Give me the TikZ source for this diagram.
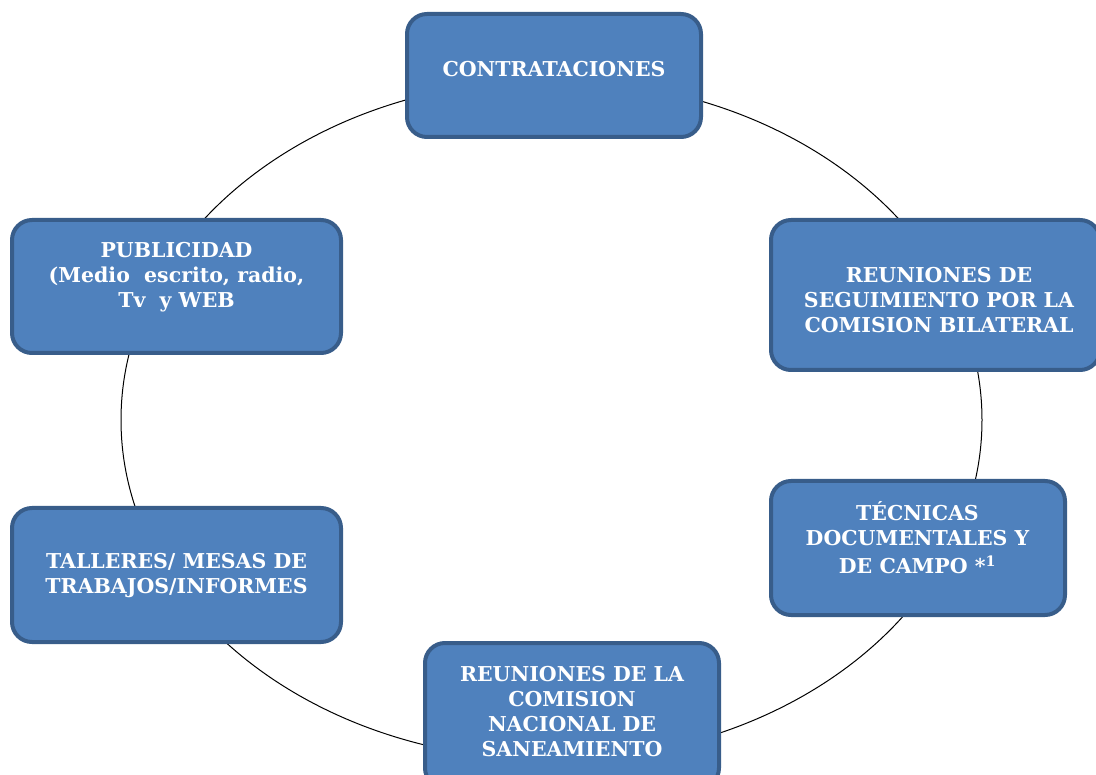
\documentclass[tikz,border=0pt]{standalone}
\usepackage{fontspec}
\setmainfont{DejaVu Serif}
\definecolor{boxfill}{HTML}{4F81BD}
\definecolor{boxborder}{HTML}{385D8A}
\tikzset{
  box/.style={draw=boxborder, line width=4pt, fill=boxfill, rounded corners=20pt, inner sep=0pt},
  lbl/.style={text=white, font=\bfseries\fontsize{20.5}{25}\selectfont, align=center, inner sep=0pt},
  ring/.style={draw=black, line width=1pt}
}
\begin{document}
\begin{tikzpicture}[x=1pt,y=-1pt]
\useasboundingbox (0,0) rectangle (1096,775);
\draw[ring] (551.5,420) ellipse [x radius=430.5pt, y radius=340pt];
\node[box, minimum width=294pt, minimum height=123pt] (top) at (554,75.5) {};
\node[lbl] (topt) at (554,69) {CONTRATACIONES};
\node[box, minimum width=329pt, minimum height=133pt] (pub) at (176.5,286.5) {};
\node[lbl] (pubt) at (176.5,277) {PUBLICIDAD\\(Medio\ \ escrito, radio,\\Tv\ \ y WEB};
\node[box, minimum width=329pt, minimum height=150pt] (seg) at (935.5,295) {};
\node[lbl] (segt) at (939,300) {REUNIONES DE\\SEGUIMIENTO POR LA\\COMISION BILATERAL};
\node[box, minimum width=294pt, minimum height=134pt] (tec) at (918,548) {};
\node[lbl] (tect) at (917.5,538) {TÉCNICAS\\DOCUMENTALES Y\\[3pt]DE CAMPO *\textsuperscript{1}};
\node[box, minimum width=329pt, minimum height=134pt] (tal) at (176.5,575) {};
\node[lbl] (talt) at (176.5,575.5) {TALLERES/ MESAS DE\\TRABAJOS/INFORMES};
\node[box, minimum width=294pt, minimum height=145pt] (bot) at (572,715.5) {};
\node[lbl] (bott) at (572,711.5) {REUNIONES DE LA\\COMISION\\NACIONAL DE\\SANEAMIENTO};
\end{tikzpicture}
\end{document}
